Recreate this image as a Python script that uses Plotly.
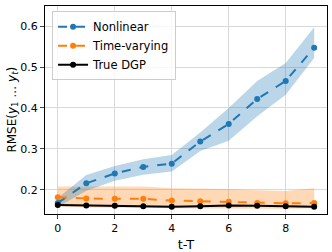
import plotly.graph_objects as go

x = list(range(10))
nonlinear = [0.168, 0.216, 0.240, 0.256, 0.264, 0.318, 0.361, 0.422, 0.466, 0.547]
nonlinear_hi = [0.180, 0.236, 0.258, 0.275, 0.285, 0.340, 0.400, 0.466, 0.510, 0.597]
nonlinear_lo = [0.158, 0.198, 0.222, 0.237, 0.245, 0.295, 0.320, 0.380, 0.432, 0.522]
timevar = [0.182, 0.179, 0.178, 0.178, 0.174, 0.172, 0.171, 0.168, 0.167, 0.168]
timevar_hi = [0.208, 0.208, 0.208, 0.208, 0.204, 0.203, 0.202, 0.199, 0.197, 0.204]
timevar_lo = [0.160, 0.157, 0.157, 0.156, 0.155, 0.154, 0.154, 0.154, 0.154, 0.155]
truedgp = [0.163, 0.162, 0.161, 0.160, 0.159, 0.160, 0.162, 0.161, 0.160, 0.159]

blue = "#1f77b4"
orange = "#ff7f0e"

fig = go.Figure()
fig.add_trace(go.Scatter(x=x + x[::-1], y=timevar_hi + timevar_lo[::-1], fill="toself",
                         fillcolor="rgba(255,127,14,0.3)", line=dict(width=0), showlegend=False, hoverinfo="skip"))
fig.add_trace(go.Scatter(x=x + x[::-1], y=nonlinear_hi + nonlinear_lo[::-1], fill="toself",
                         fillcolor="rgba(31,119,180,0.3)", line=dict(width=0), showlegend=False, hoverinfo="skip"))
fig.add_trace(go.Scatter(x=x, y=nonlinear, mode="lines+markers", name="Nonlinear",
                         line=dict(color=blue, dash="dash", width=2), marker=dict(size=6, color=blue)))
fig.add_trace(go.Scatter(x=x, y=timevar, mode="lines+markers", name="Time-varying",
                         line=dict(color=orange, dash="dash", width=2), marker=dict(size=6, color=orange)))
fig.add_trace(go.Scatter(x=x, y=truedgp, mode="lines+markers", name="True DGP",
                         line=dict(color="black", width=2), marker=dict(size=6, color="black")))

fig.update_layout(
    width=332, height=252,
    margin=dict(l=45, r=5, t=6, b=38),
    paper_bgcolor="white", plot_bgcolor="white",
    font=dict(family="DejaVu Sans", size=11, color="black"),
    legend=dict(x=0.025, y=0.975, xanchor="left", yanchor="top", bordercolor="#cccccc", borderwidth=1,
                bgcolor="rgba(255,255,255,0.8)", font=dict(size=11.5), tracegroupgap=0),
    showlegend=True,
    annotations=[dict(text="RMSE(<i>y</i><sub>1</sub> … <i>y</i><sub><i>t</i></sub>)", textangle=-90,
                      xref="paper", yref="paper", x=-0.115, y=0.5, xanchor="center", yanchor="middle",
                      showarrow=False, font=dict(size=12))],
)
fig.update_xaxes(range=[-0.45, 9.45], tickvals=[0, 2, 4, 6, 8], showgrid=True, gridcolor="#d9d9d9",
                 showline=True, linecolor="black", mirror=True, ticks="outside", ticklen=4,
                 zeroline=False, automargin=False, title=dict(text="t-T"))
fig.update_yaxes(range=[0.141, 0.649], tickvals=[0.2, 0.3, 0.4, 0.5, 0.6], showgrid=True, gridcolor="#d9d9d9",
                 showline=True, linecolor="black", mirror=True, ticks="outside", ticklen=4,
                 zeroline=False, automargin=False)

fig.write_html("out.html", config={"displayModeBar": False},
               post_script="document.body.style.margin='0';")
